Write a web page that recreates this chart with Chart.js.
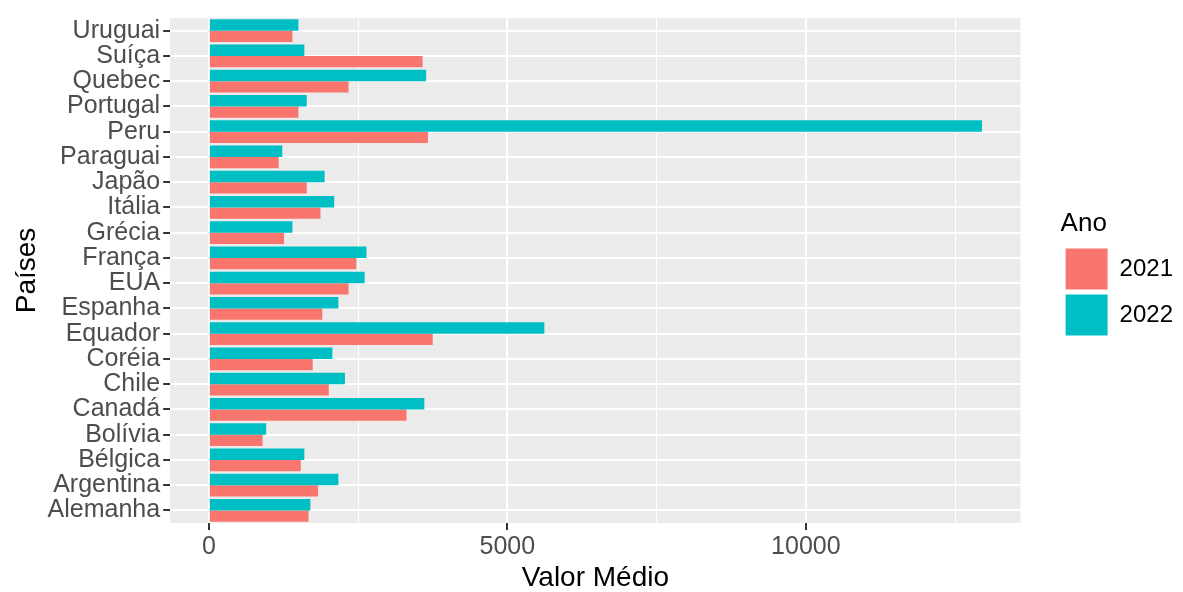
<!DOCTYPE html>
<html>
<head>
<meta charset="utf-8">
<script src="https://cdn.jsdelivr.net/npm/chart.js@4"></script>
<style>
  body { margin: 0; background: #fff; }
  #box { width: 1183px; height: 592px; }
</style>
</head>
<body>
<div id="box"><canvas id="myChart"></canvas></div>
<script>
const paises = ['Uruguai', 'Suíça', 'Quebec', 'Portugal', 'Peru', 'Paraguai', 'Japão', 'Itália', 'Grécia', 'França',
    'EUA', 'Espanha', 'Equador', 'Coréia', 'Chile', 'Canadá', 'Bolívia', 'Bélgica', 'Argentina', 'Alemanha'];
const valores2021 = [1400, 3580, 2340, 1500, 3670, 1170, 1640, 1870, 1260, 2470,
    2340, 1900, 3750, 1740, 2010, 3310, 900, 1540, 1830, 1670];
const valores2022 = [1500, 1600, 3640, 1640, 12950, 1230, 1940, 2100, 1400, 2640,
    2610, 2170, 5620, 2070, 2280, 3610, 960, 1600, 2170, 1700];
// linhas verticais (principais e secundarias) e as que levam rotulo
const xGrade = [0, 2500, 5000, 7500, 10000, 12500];
const xTicks = [0, 5000, 10000];

const fonte = 'Liberation Sans, Arial, sans-serif';

// fundo cinza do painel, estilo ggplot
const panelBg = {
    id: 'panelBg',
    beforeDraw: (chart) => {
        const {ctx, chartArea} = chart;
        ctx.save();
        ctx.fillStyle = '#EBEBEB';
        ctx.fillRect(chartArea.left, chartArea.top, chartArea.right - chartArea.left, chartArea.bottom - chartArea.top);
        ctx.restore();
    }
};

const maxValor = Math.max(...valores2021, ...valores2022);
const isMajor = (c) => c.tick && xTicks.includes(c.tick.value);

const data = {
    labels: paises,
    datasets: [{
        label: '2022',
        data: valores2022,
        backgroundColor: '#00BFC4'
    }, {
        label: '2021',
        data: valores2021,
        backgroundColor: '#F8766D'
    }]
};

const config = {
    type: 'bar',
    data: data,
    plugins: [panelBg],
    options: {
        indexAxis: 'y',
        responsive: true,
        maintainAspectRatio: false,
        animation: false,
        categoryPercentage: 0.9,
        barPercentage: 1.0,
        layout: {
            padding: {top: 6, right: 0, bottom: 0, left: 10}
        },
        scales: {
            x: {
                type: 'linear',
                min: -0.05 * maxValor,
                max: 1.05 * maxValor,
                border: {display: false},
                afterBuildTicks: (axis) => {
                    axis.ticks = xGrade.map(v => ({value: v}));
                },
                grid: {
                    color: '#FFFFFF',
                    lineWidth: (c) => isMajor(c) ? 2 : 1,
                    tickColor: (c) => isMajor(c) ? '#333333' : 'rgba(0,0,0,0)',
                    tickLength: 7,
                    tickWidth: 2
                },
                ticks: {
                    maxRotation: 0,
                    autoSkip: false,
                    color: '#4D4D4D',
                    padding: 2,
                    font: {family: fonte, size: 25},
                    callback: (value) => xTicks.includes(value) ? String(value) : ''
                },
                title: {
                    display: true,
                    text: 'Valor Médio',
                    color: '#000000',
                    font: {family: fonte, size: 28, lineHeight: 1},
                    padding: {top: 0, bottom: 0}
                }
            },
            y: {
                border: {display: false},
                grid: {
                    offset: false,
                    color: '#FFFFFF',
                    lineWidth: 2,
                    tickColor: '#333333',
                    tickLength: 7,
                    tickWidth: 2
                },
                ticks: {
                    color: '#4D4D4D',
                    padding: 3,
                    autoSkip: false,
                    font: {family: fonte, size: 25}
                },
                title: {
                    display: true,
                    text: 'Países',
                    color: '#000000',
                    font: {family: fonte, size: 28},
                    padding: {top: 0, bottom: 1}
                }
            },
            // eixo vazio so para abrir espaco entre o painel e a legenda
            folga: {
                type: 'linear',
                position: 'right',
                display: true,
                grid: {display: false, drawTicks: false},
                ticks: {display: false},
                border: {display: false},
                afterFit: (scale) => {
                    scale.width = 40;
                }
            }
        },
        plugins: {
            tooltip: {enabled: false},
            legend: {
                position: 'right',
                fullSize: false,
                reverse: true,
                title: {
                    display: true,
                    text: 'Ano',
                    color: '#000000',
                    position: 'start',
                    font: {family: fonte, size: 26},
                    padding: {top: 10, bottom: 2}
                },
                labels: {
                    boxWidth: 42,
                    boxHeight: 41,
                    padding: 5,
                    color: '#000000',
                    font: {family: fonte, size: 24}
                }
            }
        }
    }
};

const myChart = new Chart(
    document.getElementById('myChart'),
    config
);
myChart
</script>
</body>
</html>
